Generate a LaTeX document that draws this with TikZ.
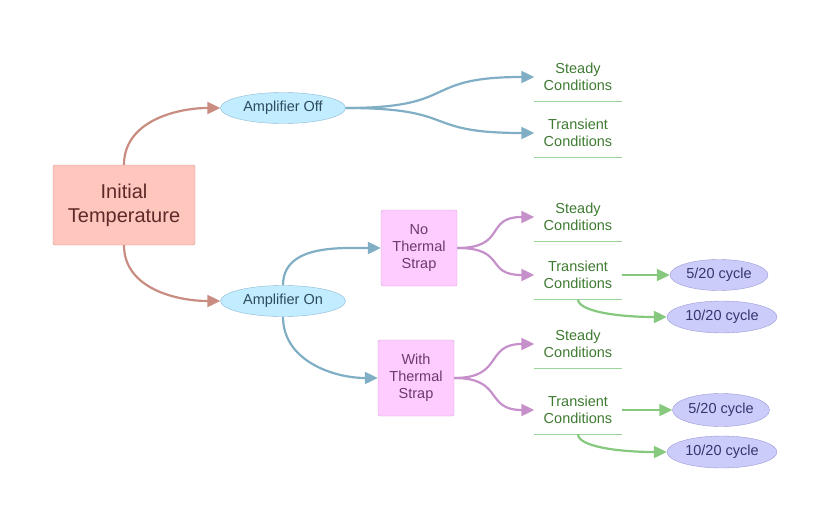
\documentclass[tikz,border=0pt]{standalone}
\usepackage{fontspec}
\setmainfont{Liberation Sans}
\usepackage{tikz}
\usetikzlibrary{shapes,arrows.meta,positioning}

\definecolor{rootfill}{HTML}{FFC6BE}
\definecolor{rootline}{HTML}{D6968E}
\definecolor{roottext}{HTML}{5E2A28}
\definecolor{ampfill}{HTML}{C2ECFF}
\definecolor{ampline}{HTML}{8CB8D0}
\definecolor{amptext}{HTML}{2D4D5D}
\definecolor{strapfill}{HTML}{FFCCFF}
\definecolor{strapline}{HTML}{D6A0D6}
\definecolor{straptext}{HTML}{6E3A6E}
\definecolor{condtext}{HTML}{3D7A30}
\definecolor{condline}{HTML}{9CD49A}
\definecolor{cycfill}{HTML}{CCCCFA}
\definecolor{cycline}{HTML}{9A9AD8}
\definecolor{cyctext}{HTML}{363670}
\definecolor{brownlink}{HTML}{C98C80}
\definecolor{bluelink}{HTML}{80AEC4}
\definecolor{purplelink}{HTML}{C690CA}
\definecolor{greenlink}{HTML}{86C87E}

\begin{document}
\begin{tikzpicture}[x=1pt,y=-1pt,
		every node/.style={font=\fontsize{14.5}{17}\selectfont, align=center},
		root/.style={draw=rootline, fill=rootfill, text=roottext, rounded corners=2pt, minimum width=142pt, minimum height=80pt, font=\fontsize{20}{24}\selectfont},
		amp/.style={ellipse, draw=ampline, fill=ampfill, text=amptext, minimum width=125pt, minimum height=31pt, inner sep=0pt},
		strap/.style={draw=strapline, fill=strapfill, text=straptext, rounded corners=2pt, minimum width=76pt, minimum height=76pt, inner sep=0pt},
		cond/.style={text=condtext, minimum width=87pt, minimum height=48pt, inner sep=0pt},
		cyc/.style={ellipse, draw=cycline, fill=cycfill, text=cyctext, minimum height=31pt, inner sep=0pt},
		link/.style={line width=2.2pt, -{Triangle[length=13pt,width=12pt]}},
		underl/.style={draw=condline, line width=1.4pt}]

		\useasboundingbox (0,0) rectangle (830,522);

		\node[root] (init) at (124,205) {Initial\\Temperature};
		\node[amp] (ampoff) at (283,108) {Amplifier Off};
		\node[amp] (ampon) at (283,301) {Amplifier On};
		\node[strap] (nostrap) at (419,248) {No\\Thermal\\Strap};
		\node[strap] (withstrap) at (416,378) {With\\Thermal\\Strap};

		\node[cond] (steadyA) at (578,77) {Steady\\Conditions};
		\node[cond] (transA) at (578,133) {Transient\\Conditions};
		\node[cond] (steadyB) at (578,217) {Steady\\Conditions};
		\node[cond] (transB) at (578,275) {Transient\\Conditions};
		\node[cond] (steadyC) at (578,344) {Steady\\Conditions};
		\node[cond] (transC) at (578,410) {Transient\\Conditions};

		\node[cyc, minimum width=98pt] (cycB5) at (719,275) {5/20 cycle};
		\node[cyc, minimum width=110pt, minimum height=32pt] (cycB10) at (722,317) {10/20 cycle};
		\node[cyc, minimum width=97pt, minimum height=33pt] (cycC5) at (721,410) {5/20 cycle};
		\node[cyc, minimum width=110pt, minimum height=32pt] (cycC10) at (722,452) {10/20 cycle};

		\draw[underl] (steadyA.south west)--(steadyA.south east);
		\draw[underl] (transA.south west)--(transA.south east);
		\draw[underl] (steadyB.south west)--(steadyB.south east);
		\draw[underl] (transB.south west)--(transB.south east);
		\draw[underl] (steadyC.south west)--(steadyC.south east);
		\draw[underl] (transC.south west)--(transC.south east);

		\draw[link, brownlink] (init.north) to[out=90, in=180] (ampoff.west);
		\draw[link, brownlink] (init.south) to[out=-90, in=180] (ampon.west);

		\draw[link, bluelink] (ampoff.east) .. controls +(115,0) and +(-115,0) .. (steadyA.west);
		\draw[link, bluelink] (ampoff.east) .. controls +(115,0) and +(-115,0) .. (transA.west);
		\draw[link, bluelink] (ampon.north) to[out=90, in=180] (nostrap.west);
		\draw[link, bluelink] (ampon.south) to[out=-90, in=180] (withstrap.west);

		\draw[link, purplelink] (nostrap.east) .. controls +(50,0) and +(-50,0) .. (steadyB.west);
		\draw[link, purplelink] (nostrap.east) .. controls +(50,0) and +(-50,0) .. (transB.west);
		\draw[link, purplelink] (withstrap.east) .. controls +(50,0) and +(-50,0) .. (steadyC.west);
		\draw[link, purplelink] (withstrap.east) .. controls +(50,0) and +(-50,0) .. (transC.west);

		\draw[link, greenlink] (transB.east)--(cycB5.west);
		\draw[link, greenlink] (transB.south) .. controls +(0,12) and +(-50,0) .. (cycB10.west);
		\draw[link, greenlink] (transC.east)--(cycC5.west);
		\draw[link, greenlink] (transC.south) .. controls +(0,12) and +(-50,0) .. (cycC10.west);
	\end{tikzpicture}
\end{document}
